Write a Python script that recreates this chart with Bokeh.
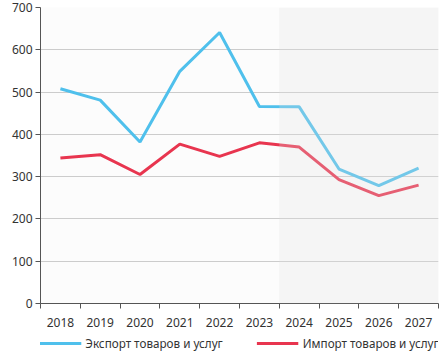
from bokeh.plotting import figure
from bokeh.layouts import column
from bokeh.models import FixedTicker, BoxAnnotation, Legend, LegendItem, Range1d
from bokeh.embed import file_html
from bokeh.resources import INLINE

years = ["2018", "2019", "2020", "2021", "2022", "2023", "2024", "2025", "2026", "2027"]
export_vals = [508, 481, 382, 549, 641, 466, 465, 318, 279, 320]
import_vals = [344, 352, 305, 377, 348, 380, 370, 293, 255, 280]
y_ticks = [0, 100, 200, 300, 400, 500, 600, 700]
forecast_start = "2024"
series_names = ["Экспорт товаров и услуг", "Импорт товаров и услуг"]
series_colors = ["#4fc0ec", "#e8354f"]

FONT = "Noto Sans"
x_pos = [i + 0.5 for i in range(len(years))]

p = figure(width=440, height=333, output_backend="svg", toolbar_location=None,
           x_range=Range1d(0, len(years)), y_range=Range1d(0, 700),
           min_border_top=7, min_border_left=40, min_border_right=2, min_border_bottom=30)
p.title.visible = False
p.outline_line_color = None
p.background_fill_color = "#fcfcfc"
p.border_fill_color = "white"

fs = years.index(forecast_start)
p.add_layout(BoxAnnotation(left=fs, right=len(years), top=700, bottom=0,
                           fill_color="#e0e0e0", fill_alpha=0.25,
                           line_color=None, level="annotation"))

p.line(x_pos, export_vals, line_color=series_colors[0], line_width=3)
p.line(x_pos, import_vals, line_color=series_colors[1], line_width=3)

p.xaxis.ticker = FixedTicker(ticks=x_pos, minor_ticks=list(range(len(years) + 1)))
p.xaxis.major_label_overrides = {x: y for x, y in zip(x_pos, years)}
p.xaxis.major_tick_out = 0
p.xaxis.major_tick_in = 0
p.xaxis.minor_tick_out = 5
p.xaxis.minor_tick_in = 0
p.xaxis.minor_tick_line_color = "#555555"
p.xaxis.major_label_standoff = 9
p.yaxis.ticker = FixedTicker(ticks=y_ticks)
p.yaxis.major_tick_out = 5
p.yaxis.major_tick_in = 0
p.yaxis.minor_tick_line_color = None
p.yaxis.major_label_standoff = 3
for ax in (p.xaxis, p.yaxis):
    ax.axis_line_color = "#555555"
    ax.major_tick_line_color = "#555555"
    ax.major_label_text_font = FONT
    ax.major_label_text_font_size = "12px"
    ax.major_label_text_color = "#333333"

p.xgrid.grid_line_color = None
p.ygrid.grid_line_color = "#cccccc"
p.ygrid.grid_line_width = 1

# legend strip below the chart (series drawn outside its visible range, only keys show)
lg = figure(width=440, height=20, output_backend="svg", toolbar_location=None,
            x_axis_type=None, y_axis_type=None,
            x_range=Range1d(0, 1), y_range=Range1d(-2000, -1000),
            min_border_left=16, min_border_right=0, min_border_top=0, min_border_bottom=0)
lg.title.visible = False
lg.outline_line_color = None
lg.xgrid.visible = False
lg.ygrid.visible = False
lg.background_fill_color = "white"
lg.border_fill_color = "white"
items = []
for name, color, vals in zip(series_names, series_colors, [export_vals, import_vals]):
    r = lg.line(x_pos, vals, line_color=color, line_width=3)
    items.append(LegendItem(label=name, renderers=[r]))
legend = Legend(items=items, orientation="horizontal", location="center",
                glyph_width=42, glyph_height=12, label_standoff=4, spacing=34,
                label_height=12,
                label_text_font=FONT, label_text_font_size="11.7px", label_text_color="#333333",
                border_line_color=None, background_fill_alpha=0, padding=0, margin=0)
lg.add_layout(legend, "center")

open("out.html", "w").write(file_html(column(p, lg, spacing=0), INLINE))
